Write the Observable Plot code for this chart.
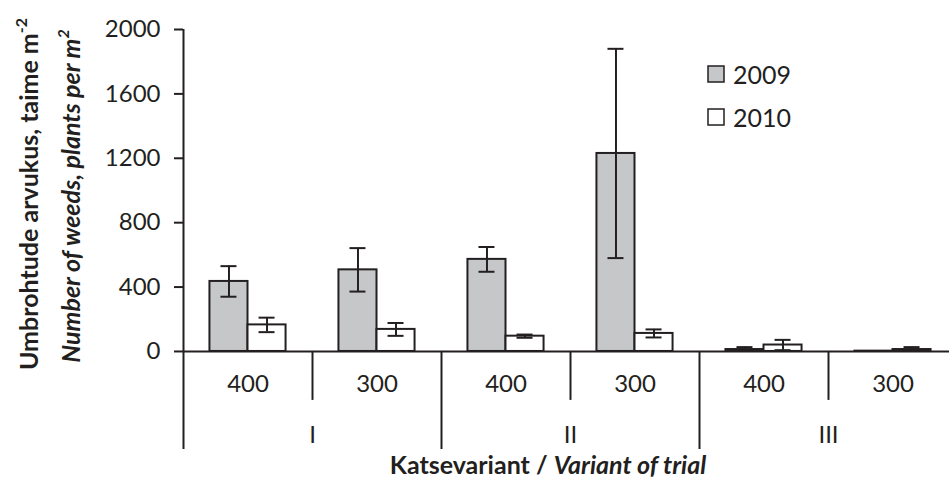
<!DOCTYPE html>
<html><head><meta charset="utf-8">
<script src="https://cdn.jsdelivr.net/npm/d3@7"></script>
<script src="https://cdn.jsdelivr.net/npm/@observablehq/plot@0.6"></script>
<style>
body{margin:0;background:#fff;}
#chart{position:relative;width:949px;height:481px;overflow:hidden;}
</style></head><body><div id="chart"></div>
<script>
// ---- data ----
const groups = ["I","I","II","II","III","III"];
const rates = ["400","300","400","300","400","300"];
const years = ["2009","2010"];
const mean2009 = [435, 507, 572, 1230, 12, 2];
const err2009  = [95, 135, 77, 650, 15, 0];
const mean2010 = [165, 137, 95, 112, 40, 12];
const err2010  = [45, 40, 10, 25, 32, 15];
const yTicks = [0, 400, 800, 1200, 1600, 2000];
const groupLabels = ["I","II","III"];
const yTitle1 = "Umbrohtude arvukus, taime m";
const yTitle1Sup = "-2";
const yTitle2 = "Number of weeds, plants per m";
const yTitle2Sup = "2";
const xTitleA = "Katsevariant / ";
const xTitleB = "Variant of trial";

// ---- layout constants ----
const ink = "#231f20";
const font = "Lato, sans-serif";
const barW = 0.295, capHalf = 0.062;
const catLabelY = -205, groupLabelY = -522, shortSepY = -304, longSepY = -609;

const rows = [];
rates.forEach((r, i) => {
  years.forEach((yr, j) => {
    const m = j === 0 ? mean2009[i] : mean2010[i];
    const e = j === 0 ? err2009[i] : err2010[i];
    const x1 = j === 0 ? i + 0.5 - barW : i + 0.5;
    rows.push({year: yr, x1, x2: x1 + barW, c: x1 + barW / 2, mean: m, err: e,
      lo: Math.max(0, m - e), hi: m + e});
  });
});
const errRows = rows.filter(d => d.err > 0);
const cats = rates.map((r, i) => ({x: i + 0.5, label: r}));
const grps = groupLabels.map((g, k) => ({x: 2 * k + 1, label: g}));
const shortSeps = [1, 3, 5];
const longSeps = [0, 2, 4, 6];

const plot = Plot.plot({
  width: 949, height: 481,
  marginTop: 29, marginBottom: 32, marginLeft: 183, marginRight: -8,
  style: {fontFamily: font, fontSize: "24px", color: ink, background: "#fff"},
  x: {domain: [0, 6], axis: null},
  y: {domain: [longSepY, 2000], axis: null},
  color: {domain: years, range: ["#c6c7c9", "#ffffff"]},
  marks: [
    Plot.rectY(rows, {x1: "x1", x2: "x2", y1: 0, y2: "mean", fill: "year", stroke: ink, strokeWidth: 2}),
    Plot.ruleX(errRows, {x: "c", y1: "lo", y2: "hi", stroke: ink, strokeWidth: 2}),
    Plot.ruleY(errRows, {y: "hi", x1: d => d.c - capHalf, x2: d => d.c + capHalf, stroke: ink, strokeWidth: 2}),
    Plot.ruleY(errRows.filter(d => d.mean - d.err > 0), {y: "lo", x1: d => d.c - capHalf, x2: d => d.c + capHalf, stroke: ink, strokeWidth: 2}),
    Plot.ruleY([0], {stroke: ink, strokeWidth: 2}),
    Plot.ruleX([0], {stroke: ink, strokeWidth: 2}),
    Plot.ruleX(shortSeps, {x: d => d, y1: 0, y2: shortSepY, stroke: ink, strokeWidth: 2}),
    Plot.ruleX(longSeps.filter(d => d > 0), {x: d => d, y1: 0, y2: longSepY, stroke: ink, strokeWidth: 2}),
    Plot.text(cats, {x: "x", y: () => catLabelY, text: "label", fontSize: 24, fill: ink}),
    Plot.text(grps, {x: "x", y: () => groupLabelY, text: "label", fontSize: 24, fill: ink}),
    Plot.axisY({ticks: yTicks, tickFormat: d3.format("d"), tickSize: 9, tickPadding: 14, stroke: ink, strokeWidth: 2, fill: ink, fontSize: 24, label: null})
  ]
});
document.getElementById("chart").appendChild(plot);

// ---- axis titles & legend ----
const svg = d3.select(plot);
const t1 = svg.append("text").attr("transform", "translate(28,194) rotate(-90)")
  .attr("text-anchor", "middle").attr("dominant-baseline", "central")
  .style("font-family", font).style("font-size", "25px").style("font-weight", "bold").attr("fill", ink);
t1.append("tspan").text(yTitle1);
t1.append("tspan").attr("dy", "-0.5em").style("font-size", "16px").text(yTitle1Sup);
const t2 = svg.append("text").attr("transform", "translate(70,196) rotate(-90)")
  .attr("text-anchor", "middle").attr("dominant-baseline", "central")
  .style("font-family", font).style("font-size", "25px").style("font-weight", "bold").style("font-style", "italic").attr("fill", ink);
t2.append("tspan").text(yTitle2);
t2.append("tspan").attr("dy", "-0.5em").style("font-size", "16px").text(yTitle2Sup);

const tx = svg.append("text").attr("x", 548).attr("y", 464)
  .attr("text-anchor", "middle").attr("dominant-baseline", "central")
  .style("font-family", font).style("font-size", "25px").style("font-weight", "bold").attr("fill", ink);
tx.append("tspan").text(xTitleA);
tx.append("tspan").style("font-style", "italic").text(xTitleB);

const colorScale = plot.scale("color");
years.forEach((yr, k) => {
  const cy = 74 + k * 43;
  svg.append("rect").attr("x", 708).attr("y", cy - 8).attr("width", 16).attr("height", 16)
    .attr("fill", colorScale.apply(yr)).attr("stroke", ink).attr("stroke-width", 1.5);
  svg.append("text").attr("x", 733).attr("y", cy).attr("text-anchor", "start").attr("dominant-baseline", "central")
    .style("font-family", font).style("font-size", "25px").attr("fill", ink).text(yr);
});
</script></body></html>
